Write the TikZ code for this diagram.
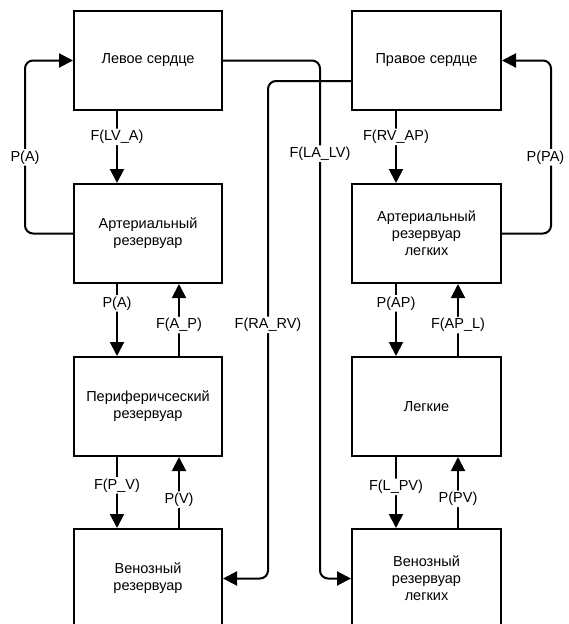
\documentclass[tikz,border=0pt]{standalone}
\usepackage{fontspec}
\setmainfont{Liberation Sans}
\usetikzlibrary{arrows.meta}
\begin{document}
\begin{tikzpicture}[x=1pt,y=-1pt,
  box/.style={draw, line width=2pt, minimum width=148pt, minimum height=99pt, align=center, font=\fontsize{14.5}{17}\selectfont, inner sep=0pt},
  conn/.style={line width=2pt, rounded corners=8pt, -{Triangle[length=14pt,width=14pt]}},
  lbl/.style={fill=white, font=\fontsize{14.5}{17}\selectfont, inner sep=1.5pt}]
\clip (0,0) rectangle (568,624);
% left column
\node[box] (lh) at (148,60.5) {Левое сердце};
\node[box] (ar) at (148,233.5) {Артериальный\\резервуар};
\node[box] (pr) at (148,406.5) {Периферичсеский\\резервуар};
\node[box] (vr) at (148,578.5) {Венозный\\резервуар};
% right column
\node[box, minimum width=149pt] (rh) at (426.5,60.5) {Правое сердце};
\node[box, minimum width=149pt] (ap) at (426.5,233.5) {Артериальный\\резервуар\\легких};
\node[box, minimum width=149pt] (lu) at (426.5,406.5) {Легкие};
\node[box, minimum width=149pt] (vp) at (426.5,578.5) {Венозный\\резервуар\\легких};
% left vertical connectors
\draw[conn] ([xshift=-31pt]lh.south) -- node[lbl,pos=0.36]{F(LV\_A)} ([xshift=-31pt]ar.north);
\draw[conn] ([xshift=-31pt]ar.south) -- node[lbl,pos=0.27]{P(A)} ([xshift=-31pt]pr.north);
\draw[conn] ([xshift=31pt]pr.north) -- node[lbl,pos=0.43]{F(A\_P)} ([xshift=31pt]ar.south);
\draw[conn] ([xshift=-31pt]pr.south) -- node[lbl,pos=0.40]{F(P\_V)} ([xshift=-31pt]vr.north);
\draw[conn] ([xshift=31pt]vr.north) -- node[lbl,pos=0.40]{P(V)} ([xshift=31pt]pr.south);
% right vertical connectors
\draw[conn] ([xshift=-30.5pt]rh.south) -- node[lbl,pos=0.36]{F(RV\_AP)} ([xshift=-30.5pt]ap.north);
\draw[conn] ([xshift=-30.5pt]ap.south) -- node[lbl,pos=0.27]{P(AP)} ([xshift=-30.5pt]lu.north);
\draw[conn] ([xshift=31.5pt]lu.north) -- node[lbl,pos=0.43]{F(AP\_L)} ([xshift=31.5pt]ap.south);
\draw[conn] ([xshift=-30.5pt]lu.south) -- node[lbl,pos=0.42]{F(L\_PV)} ([xshift=-30.5pt]vp.north);
\draw[conn] ([xshift=31.5pt]vp.north) -- node[lbl,pos=0.41]{P(PV)} ([xshift=31.5pt]lu.south);
% feedback loops
\draw[conn] (ar.west) -- (25,233.5) -- node[lbl,pos=0.44]{P(A)} (25,60.5) -- (lh.west);
\draw[conn] (ap.east) -- (551,233.5) -- node[lbl,pos=0.44,xshift=-5.5pt,inner xsep=1pt]{P(PA)} (551,60.5) -- (rh.east);
% crossing connectors
\draw[conn] ([yshift=-20.5pt]rh.west) -- (268,81) -- node[lbl,pos=0.49]{F(RA\_RV)} (268,578.5) -- (vr.east);
\draw[conn] (lh.east) -- (320,60.5) -- node[lbl,pos=0.18]{F(LA\_LV)} (320,578.5) -- (vp.west);
\end{tikzpicture}
\end{document}
